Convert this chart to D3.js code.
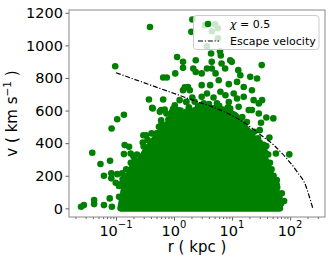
<!DOCTYPE html>
<html>
<head>
<meta charset="utf-8">
<script src="https://cdn.jsdelivr.net/npm/d3@7"></script>
<style>
  body { margin: 0; background: #fff; }
  text { font-family: "DejaVu Sans", sans-serif; fill: #000; }
</style>
</head>
<body>
<div class="chart"></div>
<script>
// scattered particles (r in kpc, v in km/s)
var rKpc = [0.097, 0.385, 2.07, 1.99, 1.13, 1.43, 1.43, 1.05, 0.65, 0.75,
  2.37, 2.37, 1.53, 1.87, 2.07, 0.37, 0.65, 0.42, 0.60, 0.69,
  1.03, 1.25, 1.63, 1.17, 0.93, 0.105, 0.137, 0.084, 0.61,
  3.4, 5.1, 5.7, 4.5, 5.7, 3.7,
  6.2, 6.4, 9.9, 32.5, 4.47, 6.6, 2.15, 4.47, 12.8, 4.35,
  9.3, 7.6, 3.7, 3.0, 5.2, 13.9, 20.6, 27, 12.2, 15.9,
  22, 8.8, 5.9, 4.2, 3.0, 3.7, 6.3, 10.7, 15.9, 23.6,
  28.9, 8.8, 5.5, 3.25, 13, 19.4, 32.9,
  51.5, 31.6, 44, 36, 57, 97, 59, 59, 79, 63,
  30, 39, 30, 39, 30, 55, 59, 51.5, 72,
  0.039, 0.141, 0.168, 0.137, 0.179, 0.054, 0.079, 0.062, 0.083, 0.105,
  0.128, 0.083, 0.099, 0.113, 0.042, 0.042, 0.062, 0.028, 0.025, 0.078,
  0.085, 0.113, 0.137, 0.296, 0.41, 0.44, 0.233,
  1.1, 1.63, 0.33, 0.29, 0.5, 0.21, 0.27, 0.36, 0.74, 0.6,
  1.43, 1.74, 1.63, 2.27, 0.96, 0.74, 0.57, 0.43,
  2.84, 4.2, 6.3, 9.3, 3.0, 4.8, 7.7, 12.2, 22, 28.9,
  0.125, 0.15, 0.13, 0.18, 0.2, 0.23, 0.3, 0.35, 0.5, 0.55,
  0.8, 0.9, 1.3, 15, 18, 24, 28, 35, 42, 45,
  48, 52, 60, 66, 70, 38, 2.6, 4, 6, 8.5, 1.8];
var vKms = [872, 1113, 1159, 1083, 929, 899, 862, 828, 803, 803,
  909, 837, 742, 725, 680, 668, 668, 617, 603, 607,
  633, 664, 653, 603, 592, 547, 574, 490, 521,
  1124, 1130, 1105, 1087, 1044, 995,
  964, 938, 899, 879, 899, 889, 858, 858, 848, 950,
  909, 858, 858, 828, 828, 817, 807, 797, 776, 745,
  725, 762, 786, 756, 756, 705, 715, 705, 684, 664,
  644, 653, 644, 644, 623, 603, 664,
  552, 525, 435, 368, 337, 331, 173, 143, 45, 10,
  480, 557, 404, 382, 316, 163, 102, 71, 92,
  341, 388, 378, 333, 337, 272, 292, 200, 215, 210,
  215, 184, 157, 137, 51, 26, 20, 20, 10, 61,
  10, 71, 102, 449, 460, 408, 286,
  582, 592, 449, 404, 408, 296, 286, 265, 490, 541,
  725, 745, 654, 654, 610, 582, 592, 613,
  608, 613, 603, 613, 684, 680, 694, 674, 603, 582,
  150, 240, 180, 280, 320, 330, 380, 420, 460, 500,
  545, 560, 600, 560, 530, 470, 430, 390, 330, 280,
  240, 200, 130, 60, 30, 340, 630, 640, 630, 620, 620];

// upper edge of the solid, fully overlapping part of the cloud
var coreR = [0.12, 0.137, 0.16, 0.196, 0.26, 0.33, 0.42, 0.57, 0.76, 1.04, 1.55, 2.3,
  3.4, 5.1, 7.6, 11.3, 15.5, 20.4, 26, 33, 40, 47, 55, 62, 67];
var coreV = [0, 112, 200, 260, 296, 357, 405, 467, 516, 553, 584, 603,
  614, 614, 603, 572, 510, 461, 406, 345, 278, 204, 125, 51, 0];

// escape velocity curve
var escR = [0.1, 0.57, 2.1, 8.2, 13.7, 20.4, 31.6, 52, 82, 132, 189, 215, 247];
var escV = [832, 736, 664, 585, 542, 501, 449, 389, 317, 225, 133, 71, 0];

var yTicks = [0, 200, 400, 600, 800, 1000, 1200];
var xTicks = [0.1, 1, 10, 100];
var xTickExp = ["\u22121", "0", "1", "2"];
var legendLabels = ["= 0.5", "Escape velocity"];

var svgWidth = 333;
var svgHeight = 262;
var margin = { top: 10, right: 8, bottom: 45, left: 69 };
var width = svgWidth - margin.left - margin.right;
var height = svgHeight - margin.top - margin.bottom;

var green = "#008000";
var dotR = 3.3;

var svg = d3.select(".chart")
  .append("svg")
  .attr("width", svgWidth)
  .attr("height", svgHeight);

var chartGroup = svg.append("g")
  .attr("transform", `translate(${margin.left}, ${margin.top})`);

var x = d3.scaleLog().domain([0.0155, 400]).range([0, width]);
var y = d3.scaleLinear().domain([-53, 1217]).range([height, 0]);

svg.append("defs").append("clipPath").attr("id", "clip")
  .append("rect").attr("width", width).attr("height", height);

var plot = chartGroup.append("g").attr("clip-path", "url(#clip)");

// dense core
var core = coreR.map((r, i) => ({ r: r, v: coreV[i] }));
plot.append("path")
  .datum(core)
  .attr("d", d3.area().x(d => x(d.r)).y0(y(0)).y1(d => y(d.v)))
  .attr("fill", green)
  .attr("stroke", green)
  .attr("stroke-width", dotR * 2)
  .attr("stroke-linejoin", "round");

// single points
var pts = rKpc.map((r, i) => ({ r: r, v: vKms[i] }));
plot.selectAll("circle.pt")
  .data(pts)
  .enter()
  .append("circle")
  .attr("class", "pt")
  .attr("cx", d => x(d.r))
  .attr("cy", d => y(d.v))
  .attr("r", dotR)
  .attr("fill", green);

// escape velocity
var esc = escR.map((r, i) => ({ r: r, v: escV[i] }));
var dashes = "5,1.8,1.2,1.8";
plot.append("path")
  .datum(esc)
  .attr("d", d3.line().x(d => x(d.r)).y(d => y(d.v)).curve(d3.curveMonotoneX))
  .attr("fill", "none")
  .attr("stroke", "#000")
  .attr("stroke-width", 1.2)
  .attr("stroke-dasharray", dashes);

// axes
var minor = [];
for (var e = -2; e <= 2; e++) {
  for (var k = 2; k <= 9; k++) {
    var val = k * Math.pow(10, e);
    if (val > 0.0155 && val < 400) minor.push(val);
  }
}

var xMinor = chartGroup.append("g")
  .attr("transform", `translate(0, ${height})`)
  .call(d3.axisBottom(x).tickValues(minor).tickSize(2).tickFormat(""));
var xMajor = chartGroup.append("g")
  .attr("transform", `translate(0, ${height})`)
  .call(d3.axisBottom(x).tickValues(xTicks).tickSize(3.5).tickFormat(""));
[xMinor, xMajor].forEach(g => {
  g.select(".domain").remove();
  g.selectAll("line").attr("stroke", "#333").attr("stroke-width", 0.8);
});

xTicks.forEach(function(t, i) {
  var lab = chartGroup.append("text")
    .attr("x", x(t))
    .attr("y", height + 19)
    .attr("text-anchor", "middle")
    .attr("font-size", 14.5);
  lab.append("tspan").text("10");
  lab.append("tspan").attr("dy", -8).attr("font-size", 10).text(xTickExp[i]);
});

var yAxis = chartGroup.append("g")
  .call(d3.axisLeft(y).tickValues(yTicks).tickSize(3.5).tickPadding(2.5)
    .tickFormat(d3.format("d")));
yAxis.select(".domain").remove();
yAxis.selectAll("line").attr("stroke", "#333").attr("stroke-width", 0.8);
yAxis.selectAll("text")
  .attr("font-size", 14.5)
  .attr("font-family", "DejaVu Sans, sans-serif")
  .attr("fill", "#000");

// frame
chartGroup.append("rect")
  .attr("width", width)
  .attr("height", height)
  .attr("fill", "none")
  .attr("stroke", "#888")
  .attr("stroke-width", 1);

// axis labels
chartGroup.append("text")
  .attr("x", width / 2)
  .attr("y", height + 35)
  .attr("text-anchor", "middle")
  .attr("font-size", 15)
  .text("r ( kpc )");

var yl = chartGroup.append("text")
  .attr("transform", `translate(${17 - margin.left}, ${height / 2}) rotate(-90)`)
  .attr("text-anchor", "middle")
  .attr("font-size", 15);
yl.append("tspan").text("v ( km s");
yl.append("tspan").attr("dy", -6).attr("font-size", 10.5).text("\u22121");
yl.append("tspan").attr("dy", 6).text(" )");

// legend
var legend = svg.append("g");
legend.append("rect")
  .attr("x", 193.5).attr("y", 15.5)
  .attr("width", 125.5).attr("height", 34)
  .attr("rx", 3)
  .attr("fill", "#fff").attr("fill-opacity", 0.8)
  .attr("stroke", "#ccc").attr("stroke-width", 1);
legend.append("circle")
  .attr("cx", 208).attr("cy", 24)
  .attr("r", dotR).attr("fill", green);
legend.append("line")
  .attr("x1", 198).attr("x2", 219)
  .attr("y1", 41).attr("y2", 41)
  .attr("stroke", "#000").attr("stroke-width", 1.2)
  .attr("stroke-dasharray", dashes);
var l1 = legend.append("text")
  .attr("x", 230).attr("y", 28)
  .attr("font-size", 11);
l1.append("tspan").attr("font-style", "italic").text("\u03c7");
l1.append("tspan").text(" " + legendLabels[0]);
legend.append("text")
  .attr("x", 230).attr("y", 44.5)
  .attr("font-size", 11)
  .text(legendLabels[1]);
</script>
</body>
</html>
